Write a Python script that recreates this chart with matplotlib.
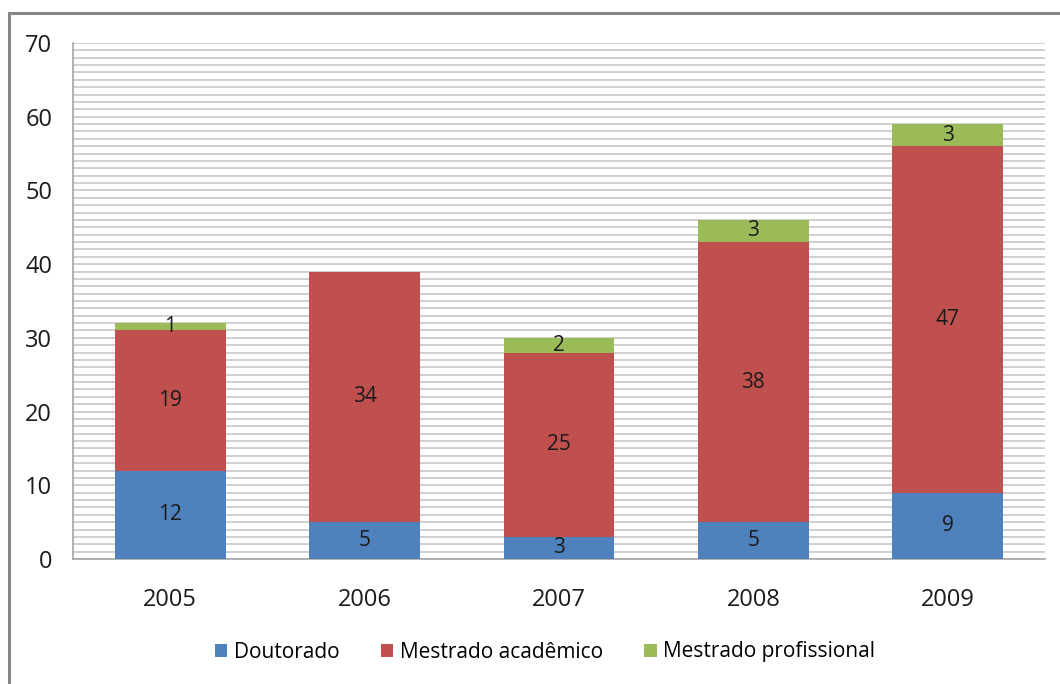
import numpy as np
import matplotlib
matplotlib.use("Agg")
import matplotlib.pyplot as plt
from matplotlib.patches import Rectangle

years = ["2005", "2006", "2007", "2008", "2009"]
doutorado = [12, 5, 3, 5, 9]
mestrado_academico = [19, 34, 25, 38, 47]
mestrado_profissional = [1, 0, 2, 3, 3]

series_names = ["Doutorado", "Mestrado acadêmico", "Mestrado profissional"]
colors = ["#4F81BD", "#C0504D", "#9BBB59"]


def main():
    plt.rcParams["font.family"] = ["Open Sans", "DejaVu Sans"]
    fig = plt.figure(figsize=(10.6, 6.84), dpi=100)
    ax = fig.add_axes([73 / 1060, 1 - 559 / 684, (1045 - 73) / 1060, (559 - 43) / 684])

    x = np.arange(len(years))
    width = 0.57
    bottom = np.zeros(len(years))
    for name, vals, col in zip(series_names,
                               [doutorado, mestrado_academico, mestrado_profissional],
                               colors):
        vals = np.array(vals, dtype=float)
        bars = ax.bar(x, vals, width, bottom=bottom, color=col, label=name,
                      edgecolor="none", zorder=3)
        for b, v, btm in zip(bars, vals, bottom):
            if v > 0:
                ax.text(b.get_x() + b.get_width() / 2, btm + v / 2, str(int(v)),
                        ha="center", va="center", fontsize=15, color="#1a1a1a",
                        zorder=4)
        bottom += vals

    ax.set_xlim(-0.5, len(years) - 0.5)
    ax.set_ylim(0, 70)
    ax.set_yticks(np.arange(0, 71, 10))
    ax.set_yticks(np.arange(0, 71, 1), minor=True)
    ax.set_xticks(x)
    ax.set_xticklabels(years)
    ax.tick_params(axis="both", which="both", length=0, labelsize=17,
                   colors="#1a1a1a")
    ax.tick_params(axis="y", pad=15)
    ax.tick_params(axis="x", pad=21)
    ax.grid(axis="y", which="both", color="#C4C4C4", linewidth=1.1, zorder=0)
    for s in ["top", "right"]:
        ax.spines[s].set_visible(False)
    for s in ["left", "bottom"]:
        ax.spines[s].set_color("#A6A6A6")
        ax.spines[s].set_linewidth(1.2)

    ax.legend(loc="center", bbox_to_anchor=(545 / 1060, 1 - 652 / 684),
              bbox_transform=fig.transFigure, ncol=3, frameon=False,
              fontsize=15, handlelength=0.6, handleheight=0.6,
              handletextpad=0.3, columnspacing=2.0)

    fig.patches.append(Rectangle((9 / 1060, -0.05), 1.1, 1 - 13 / 684 + 0.05,
                                 transform=fig.transFigure, fill=False,
                                 edgecolor="#878787", linewidth=2.2))

    fig.savefig("out.png", dpi=100)


if __name__ == "__main__":
    main()
